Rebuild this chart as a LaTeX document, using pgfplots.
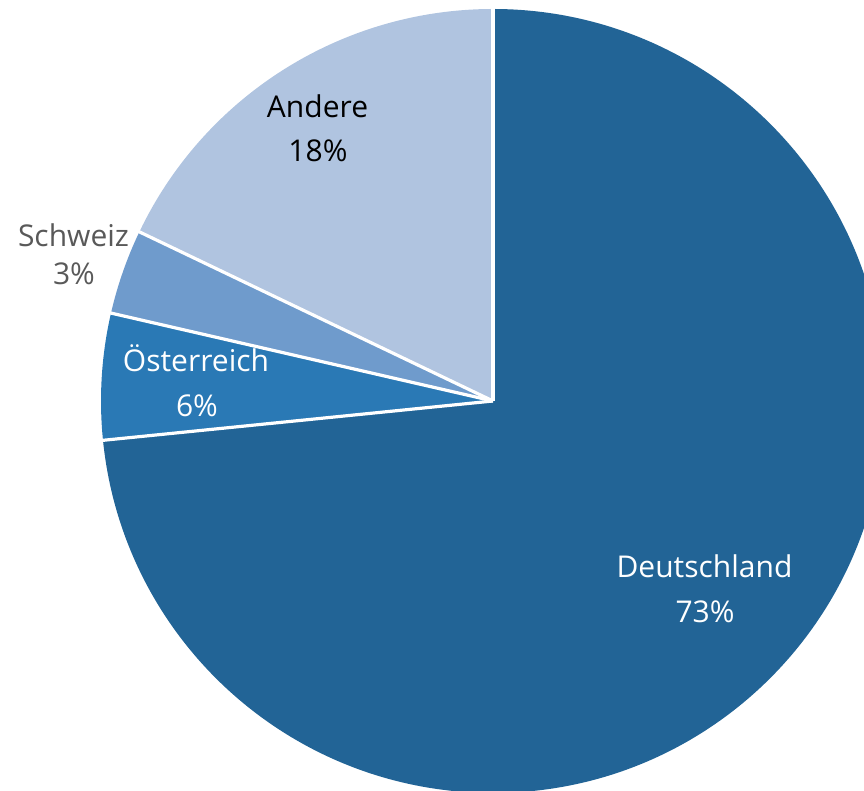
\documentclass[border=0pt]{standalone}
\usepackage{pgfplots}
\usepackage{pgfplotstable}
\pgfplotsset{compat=1.18}
\usepackage{fontspec}
\setmainfont{Open Sans}
\definecolor{cD}{HTML}{226496}
\definecolor{cO}{HTML}{2A79B5}
\definecolor{cS}{HTML}{6F9BCC}
\definecolor{cA}{HTML}{B0C4E0}
\definecolor{cG}{HTML}{595959}

\pgfplotstableread{
label value
Deutschland 73.4
Oesterreich 5.2
Schweiz 3.5
Andere 17.9
}\piedata

\def\R{196pt}
\def\Rl{198pt}
\tikzset{lab/.style={anchor=base, inner sep=0pt, font=\fontsize{15}{17}\selectfont}}

\pgfplotstablegetelem{0}{value}\of\piedata \let\vD\pgfplotsretval
\pgfplotstablegetelem{1}{value}\of\piedata \let\vO\pgfplotsretval
\pgfplotstablegetelem{2}{value}\of\piedata \let\vS\pgfplotsretval
\pgfplotstablegetelem{3}{value}\of\piedata \let\vA\pgfplotsretval
\pgfmathsetmacro{\aA}{90}
\pgfmathsetmacro{\aB}{\aA-3.6*\vD}
\pgfmathsetmacro{\aC}{\aB-3.6*\vO}
\pgfmathsetmacro{\aD}{\aC-3.6*\vS}
\pgfmathsetmacro{\aE}{\aD-3.6*\vA}

\begin{document}
\begin{tikzpicture}
\useasboundingbox (0,0) rectangle (432pt,395.5pt);
\begin{axis}[
  at={(0,0)}, anchor=south west,
  scale only axis, width=432pt, height=395.5pt,
  xmin=0, xmax=864, ymin=-791, ymax=0,
  hide axis, clip=true,
]
\fill[cD] (axis cs:493,-401) -- ++(\aA:\R) arc[start angle=\aA, end angle=\aB, radius=\R] -- cycle;
\fill[cO] (axis cs:493,-401) -- ++(\aB:\R) arc[start angle=\aB, end angle=\aC, radius=\R] -- cycle;
\fill[cS] (axis cs:493,-401) -- ++(\aC:\R) arc[start angle=\aC, end angle=\aD, radius=\R] -- cycle;
\fill[cA] (axis cs:493,-401) -- ++(\aD:\R) arc[start angle=\aD, end angle=\aE, radius=\R] -- cycle;
\draw[white, line width=1.6pt] (axis cs:493,-401) -- ++(\aA:\Rl);
\draw[white, line width=1.6pt] (axis cs:493,-401) -- ++(\aB:\Rl);
\draw[white, line width=1.6pt] (axis cs:493,-401) -- ++(\aC:\Rl);
\draw[white, line width=1.6pt] (axis cs:493,-401) -- ++(\aD:\Rl);
\node[lab, white] at (axis cs:704.5,-578) {Deutschland};
\node[lab, white] at (axis cs:705,-623) {73\%};
\node[lab, white] at (axis cs:196,-372) {Österreich};
\node[lab, white] at (axis cs:197,-417) {6\%};
\node[lab, cG] at (axis cs:73.5,-247) {Schweiz};
\node[lab, cG] at (axis cs:74,-285) {3\%};
\node[lab, black] at (axis cs:317.5,-118) {Andere};
\node[lab, black] at (axis cs:318,-162) {18\%};
\end{axis}
\end{tikzpicture}
\end{document}
